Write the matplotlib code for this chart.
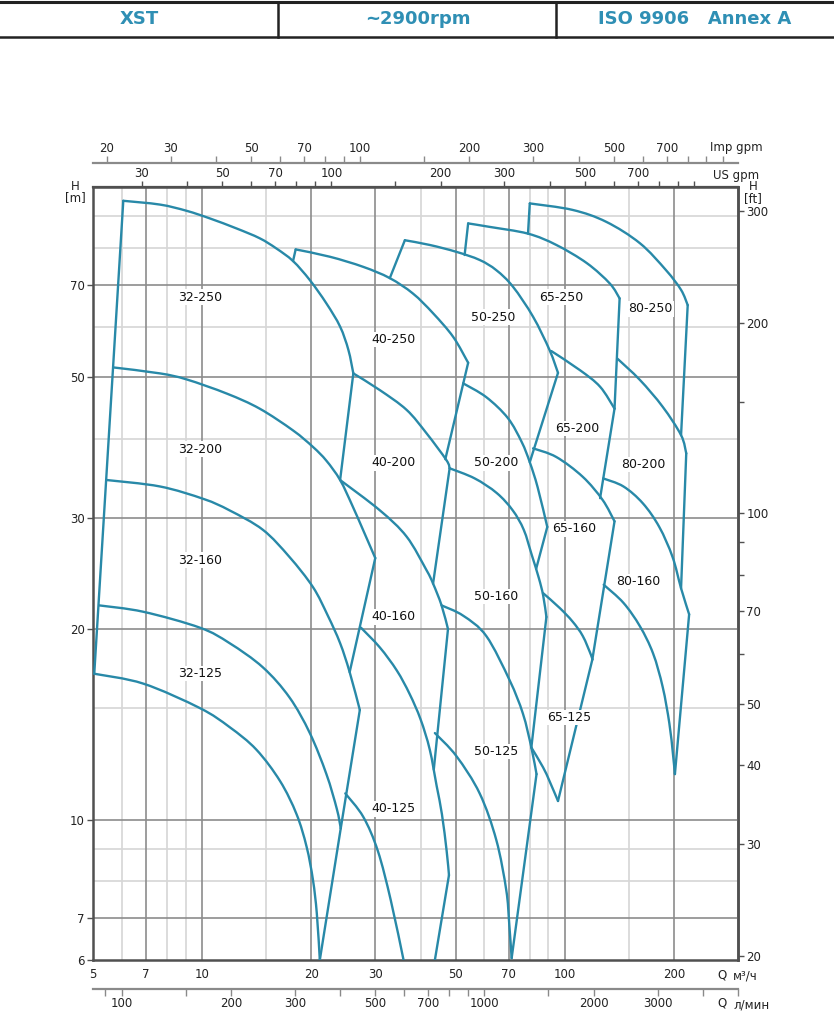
import numpy as np
import matplotlib
matplotlib.use("Agg")
import matplotlib.pyplot as plt
from matplotlib.lines import Line2D
from matplotlib.path import Path
from matplotlib.patches import PathPatch
from matplotlib.ticker import NullLocator

CURVE = "#2889a8"
HEAD = "#2f8fb4"
DARK_GRID = "#8c8c8c"
LIGHT_GRID = "#d6d6d6"
SPINE = "#505050"

# unit conversions used by the extra scales
US_GPM = 4.403     # US gpm per m3/h
IMP_GPM = 3.666    # Imp gpm per m3/h
L_MIN = 16.667     # l/min per m3/h
FT = 3.2808        # ft per m

# grid and tick values
q_grid_major = [7, 10, 20, 30, 50, 70, 100, 200]
q_grid_minor = [6, 8, 9, 15, 40, 60, 80, 90, 150]
h_grid_major = [7, 10, 20, 30, 50, 70]
h_grid_minor = [8, 9, 15, 40, 60, 80, 90]

q_ticks = [5, 7, 10, 20, 30, 50, 70, 100, 200]
h_ticks = [6, 7, 10, 20, 30, 50, 70]
imp_ticks = [20, 30, 40, 50, 60, 70, 80, 90, 100, 150, 200, 300, 400, 500,
             600, 700, 800, 900, 1000]
imp_labels = [20, 30, 50, 70, 100, 200, 300, 500, 700]
us_ticks = [30, 40, 50, 60, 70, 80, 90, 100, 150, 200, 300, 400, 500, 600,
            700, 800, 900, 1000]
us_labels = [30, 50, 70, 100, 200, 300, 500, 700]
lmin_ticks = [90, 100, 150, 200, 300, 400, 500, 600, 700, 800, 900, 1000,
              1500, 2000, 3000, 4000, 5000]
lmin_labels = [100, 200, 300, 500, 700, 1000, 2000, 3000]
ft_ticks = [20, 30, 40, 50, 60, 70, 80, 90, 100, 150, 200, 300]
ft_labels = [20, 30, 40, 50, 70, 100, 200, 300]

# pump fields, (Q m3/h, H m)
# 32 series
edge32_left = [(6.06, 95.0), (5.04, 17.0)]
c32_250 = [(6.06, 95.0), (7.65, 93.7), (9.06, 91.6), (10.5, 89.1), (12.44, 85.9),
           (14.4, 82.9), (16.0, 79.9), (17.8, 76.3), (19.8, 71.2), (22.0, 65.4),
           (24.0, 60.1), (25.3, 55.2), (26.1, 50.7)]
edge32_250 = [(26.1, 50.7), (24.0, 34.4)]
c32_200 = [(5.71, 51.8), (7.65, 50.7), (9.06, 49.6), (11.7, 47.1), (14.4, 44.6),
           (17.8, 41.2), (20.2, 38.8), (22.0, 36.9), (24.0, 34.4), (25.9, 31.4),
           (27.9, 28.5), (30.0, 25.9)]
edge32_200 = [(30.0, 25.9), (25.5, 17.1)]
c32_160 = [(5.45, 34.4), (7.65, 33.6), (10.1, 32.1), (11.9, 30.8), (14.7, 28.7),
           (17.4, 26.0), (20.2, 23.3), (22.2, 21.0), (24.0, 19.0), (25.5, 17.1),
           (27.2, 14.9)]
edge32_160 = [(27.2, 14.9), (24.1, 9.69)]
c32_125 = [(5.20, 21.8), (6.88, 21.3), (9.86, 20.1), (11.9, 19.0), (14.7, 17.4),
           (17.4, 15.6), (19.8, 13.7), (22.0, 11.8), (23.5, 10.4), (24.1, 9.69)]
edge32_125 = [(24.1, 9.69), (21.1, 6.0)]
c32_min = [(5.04, 17.0), (6.88, 16.4), (9.86, 15.0), (11.9, 14.0), (14.1, 12.9),
           (16.4, 11.5), (18.2, 10.2), (19.4, 9.06), (20.2, 8.03), (20.7, 7.11),
           (21.1, 6.0)]

# 40 series
notch40 = [(17.8, 76.3), (18.1, 79.6)]
c40_250 = [(18.1, 79.6), (22.5, 77.5), (27.8, 74.7), (32.9, 71.7),
           (38.1, 67.8), (43.3, 63.1), (49.2, 57.9), (54.1, 52.7)]
edge40_250 = [(54.1, 52.7), (46.8, 37.1)]
c40_200 = [(26.1, 50.7), (30.9, 47.7), (36.6, 44.4), (41.5, 40.8), (47.1, 37.0),
           (48.1, 35.9)]
edge40_200 = [(48.1, 35.9), (43.3, 23.6)]
c40_160 = [(24.0, 34.4), (30.9, 30.8), (36.6, 28.0), (41.5, 24.8), (43.3, 23.6),
           (45.7, 21.8), (47.6, 20.0)]
edge40_160 = [(47.6, 20.0), (43.5, 12.0)]
c40_125 = [(27.4, 20.1), (30.9, 18.7), (34.4, 17.2), (37.3, 15.8), (40.0, 14.4),
           (42.4, 12.9), (44.3, 11.3), (45.8, 10.2), (47.2, 8.92), (47.9, 8.17)]
edge40_125 = [(47.9, 8.17), (43.8, 6.0)]
c40_min = [(24.8, 11.0), (27.8, 10.1), (30.5, 8.92), (33.1, 7.46), (35.9, 6.0)]

# 50 series
notch50 = [(32.9, 71.7), (36.2, 82.3)]
c50_250 = [(36.2, 82.3), (42.4, 80.9), (50.2, 78.9), (58.2, 76.6),
           (64.7, 73.8), (71.9, 69.5), (81.7, 62.3), (90.7, 55.2), (95.7, 50.8)]
edge50_250 = [(95.7, 50.8), (80.0, 36.7)]
c50_200 = [(52.4, 48.9), (60.7, 46.5), (69.6, 43.1), (76.0, 39.5), (80.0, 36.7),
           (84.1, 33.5), (89.4, 29.0)]
edge50_200 = [(89.4, 29.0), (83.3, 24.9)]
c50_160 = [(48.1, 35.9), (56.4, 34.6), (64.9, 32.8), (71.8, 30.8), (77.0, 28.7),
           (81.0, 26.2), (84.7, 24.1), (87.1, 22.6), (88.9, 20.9)]
edge50_160 = [(88.9, 20.9), (80.8, 13.0)]
c50_125 = [(45.7, 21.8), (52.4, 21.0), (60.7, 19.5), (70.4, 16.6), (76.6, 14.7),
           (80.8, 13.0), (83.5, 11.8)]
edge50_125 = [(83.5, 11.8), (71.3, 6.04)]
c50_min = [(43.8, 13.7), (50.2, 12.6), (58.2, 11.0), (64.7, 9.28), (68.9, 7.74),
           (70.2, 6.86), (71.3, 6.04)]

# 65 series
notch65 = [(52.9, 78.0), (54.1, 87.5)]
c65_250 = [(54.1, 87.5), (62.0, 86.4), (79.1, 84.3), (94.7, 80.9),
           (115, 75.7), (133, 70.3), (141.5, 66.6)]
edge65_250 = [(141.5, 66.6), (137, 44.6)]
c65_200 = [(91.7, 55.0), (110, 51.3), (125, 48.3), (137, 44.6)]
edge65_200 = [(137, 44.6), (125, 32.2)]
c65_160 = [(81.7, 38.6), (94.7, 37.4), (112, 34.8), (127, 32.0), (137, 29.6)]
edge65_160 = [(137, 29.6), (119, 17.9)]
c65_125 = [(87.0, 22.8), (96.7, 21.6), (105, 20.55), (112, 19.5), (118, 18.2),
           (119, 17.9)]
edge65_125 = [(119, 17.9), (95.7, 10.7)]
c65_min = [(80.8, 13.0), (87.0, 12.1), (90.7, 11.5), (95.7, 10.7)]

# 80 series
notch80 = [(79.1, 84.3), (80.0, 94.1)]
c80_250 = [(80.0, 94.1), (105, 91.9), (130, 88.0), (161, 81.4),
           (190, 73.8), (209, 68.7), (218, 65.0)]
edge80_250 = [(218, 65.0), (209, 40.5)]
c80_200 = [(139.5, 53.5), (161, 49.5), (186, 44.9), (209, 40.5), (216, 37.9)]
edge80_200 = [(216, 37.9), (209, 23.2)]
c80_160 = [(127.5, 34.6), (145, 33.6), (164, 31.6), (182, 29.0), (198, 26.0),
           (209, 23.2), (220, 21.1)]
edge80_160 = [(220, 21.1), (201, 11.8)]
c80_min = [(127.9, 23.5), (145, 22.0), (161, 20.2), (175, 18.3), (186, 16.2),
           (194, 14.2), (198.5, 12.7), (201, 11.8)]

field_names = ["32-250", "32-200", "32-160", "32-125",
               "40-250", "40-200", "40-160", "40-125",
               "50-250", "50-200", "50-160", "50-125",
               "65-250", "65-200", "65-160", "65-125",
               "80-250", "80-200", "80-160"]
field_q = [9.86, 9.86, 9.86, 9.86,
           33.7, 33.7, 33.7, 33.7,
           63.6, 64.5, 64.5, 64.5,
           97.9, 108, 106, 103,
           172, 164, 159]
field_h = [66.9, 38.5, 25.7, 17.0,
           57.4, 36.6, 20.9, 10.4,
           62.2, 36.6, 22.5, 12.8,
           66.9, 41.5, 28.8, 14.5,
           64.1, 36.4, 23.8]

head_curves = [c32_250, c32_200, c32_160, c32_125, c32_min,
               c40_250, c40_200, c40_160, c40_125, c40_min,
               c50_250, c50_200, c50_160, c50_125, c50_min,
               c65_250, c65_200, c65_160, c65_125, c65_min,
               c80_250, c80_200, c80_160, c80_min]
edges = [edge32_left, edge32_250, edge32_200, edge32_160, edge32_125,
         notch40, edge40_250, edge40_200, edge40_160, edge40_125,
         notch50, edge50_250, edge50_200, edge50_160, edge50_125,
         notch65, edge65_250, edge65_200, edge65_160, edge65_125,
         notch80, edge80_250, edge80_200, edge80_160]

W, H = 834, 1024


def fx(px):
    return px / W


def fy(py):
    return 1 - py / H


def smooth_path(pts):
    # Catmull-Rom through the read points, done in log space so it bends
    # the same way the log-log chart does
    p = np.log10(np.array(pts, float))
    n = len(p)
    verts, codes = [p[0]], [Path.MOVETO]
    for i in range(n - 1):
        p0 = p[i - 1] if i > 0 else p[i]
        p3 = p[i + 2] if i + 2 < n else p[i + 1]
        verts += [p[i] + (p[i + 1] - p0) / 6, p[i + 1] - (p3 - p[i]) / 6, p[i + 1]]
        codes += [Path.CURVE4] * 3
    return Path(10 ** np.array(verts), codes)


def xaxis_ticks(sec, ticks, labels, color):
    sec.set_ticks(ticks, labels=[str(t) if t in labels else "" for t in ticks])
    sec.xaxis.set_minor_locator(NullLocator())
    for s in sec.spines.values():
        s.set_color(color)
        s.set_linewidth(1.6)


fig = plt.figure(figsize=(W / 100, H / 100), dpi=100)
ax = fig.add_axes([fx(93), fy(960), fx(738) - fx(93), fy(186.7) - fy(960)])
ax.set_xscale("log")
ax.set_yscale("log")
ax.set_xlim(5, 300)
ax.set_ylim(6, 100)

for q in q_grid_minor:
    ax.axvline(q, color=LIGHT_GRID, lw=1.2, zorder=0)
for h in h_grid_minor:
    ax.axhline(h, color=LIGHT_GRID, lw=1.2, zorder=0)
for q in q_grid_major:
    ax.axvline(q, color=DARK_GRID, lw=1.2, zorder=1)
for h in h_grid_major:
    ax.axhline(h, color=DARK_GRID, lw=1.2, zorder=1)

for pts in head_curves:
    ax.add_patch(PathPatch(smooth_path(pts), fill=False, ec=CURVE, lw=1.7,
                           zorder=3, capstyle="round", joinstyle="round"))
for pts in edges:
    qs, hs = zip(*pts)
    ax.plot(qs, hs, color=CURVE, lw=1.7, zorder=3, solid_capstyle="round")

for name, q, h in zip(field_names, field_q, field_h):
    ax.text(q, h, name, ha="center", va="center", fontsize=9, color="#111111",
            zorder=4, bbox=dict(boxstyle="square,pad=0.1", fc="white", ec="none"))

ax.xaxis.set_minor_locator(NullLocator())
ax.yaxis.set_minor_locator(NullLocator())
ax.set_xticks(q_ticks, labels=[str(t) for t in q_ticks])
ax.set_yticks(h_ticks, labels=[str(t) for t in h_ticks])
ax.tick_params(axis="x", length=0, pad=6, labelsize=8.5, labelcolor="#222222")
ax.tick_params(axis="y", length=4, width=1, color=SPINE, pad=2,
               labelsize=8.5, labelcolor="#222222")
for s in ax.spines.values():
    s.set_color(SPINE)
    s.set_linewidth(1.8)

# extra flow scales
us = ax.secondary_xaxis("top", functions=(lambda q: q * US_GPM,
                                          lambda g: g / US_GPM))
xaxis_ticks(us, us_ticks, us_labels, SPINE)
us.tick_params(length=4, width=1, color=SPINE, pad=1, labelsize=8.5,
               labelcolor="#222222")

imp = ax.secondary_xaxis(1 + (186.7 - 163) / 773.3,
                         functions=(lambda q: q * IMP_GPM, lambda g: g / IMP_GPM))
xaxis_ticks(imp, imp_ticks, imp_labels, "#8a8a8a")
imp.tick_params(length=5, width=1, color="#8a8a8a", pad=1, labelsize=8.5,
                labelcolor="#222222")

lmin = ax.secondary_xaxis(-(989 - 960) / 773.3,
                          functions=(lambda q: q * L_MIN, lambda l: l / L_MIN))
xaxis_ticks(lmin, lmin_ticks, lmin_labels, "#8a8a8a")
lmin.tick_params(length=5, width=1, color="#8a8a8a", pad=1, labelsize=8.5,
                 labelcolor="#222222")

ft = ax.secondary_yaxis("right", functions=(lambda h: h * FT, lambda f: f / FT))
ft.set_ticks(ft_ticks, labels=[str(t) if t in ft_labels else "" for t in ft_ticks])
ft.yaxis.set_minor_locator(NullLocator())
ft.tick_params(length=4, width=1, color=SPINE, pad=2, labelsize=8.5,
               labelcolor="#222222")
for s in ft.spines.values():
    s.set_color(SPINE)
    s.set_linewidth(1.8)

# unit captions
txt = dict(fontsize=8.5, color="#222222", va="center")
fig.text(fx(710), fy(148), "Imp gpm", ha="left", **txt)
fig.text(fx(713), fy(175), "US gpm", ha="left", **txt)
fig.text(fx(75), fy(186), "H", ha="center", **txt)
fig.text(fx(75), fy(198), "[m]", ha="center", **txt)
fig.text(fx(753), fy(187), "H", ha="center", **txt)
fig.text(fx(753), fy(199), "[ft]", ha="center", **txt)
fig.text(fx(722), fy(975), "Q", ha="center", **txt)
fig.text(fx(733), fy(976), "м³/ч", ha="left", **txt)
fig.text(fx(722), fy(1003), "Q", ha="center", **txt)
fig.text(fx(733), fy(1005), "л/мин", ha="left", **txt)

# header strip
for y0, lw in ((1.7, 2.2), (36.5, 1.8)):
    fig.add_artist(Line2D([0, 1], [fy(y0), fy(y0)], color="#222222", lw=lw,
                          transform=fig.transFigure))
for x0 in (278, 556):
    fig.add_artist(Line2D([fx(x0), fx(x0)], [fy(1.7), fy(36.5)], color="#222222",
                          lw=1.8, transform=fig.transFigure))
head = dict(fontsize=13, fontweight="bold", color=HEAD, ha="center", va="center")
fig.text(fx(139), fy(19), "XST", **head)
fig.text(fx(418), fy(19), "~2900rpm", **head)
fig.text(fx(695), fy(19), "ISO 9906   Annex A", **head)

fig.savefig("out.png", dpi=100)
